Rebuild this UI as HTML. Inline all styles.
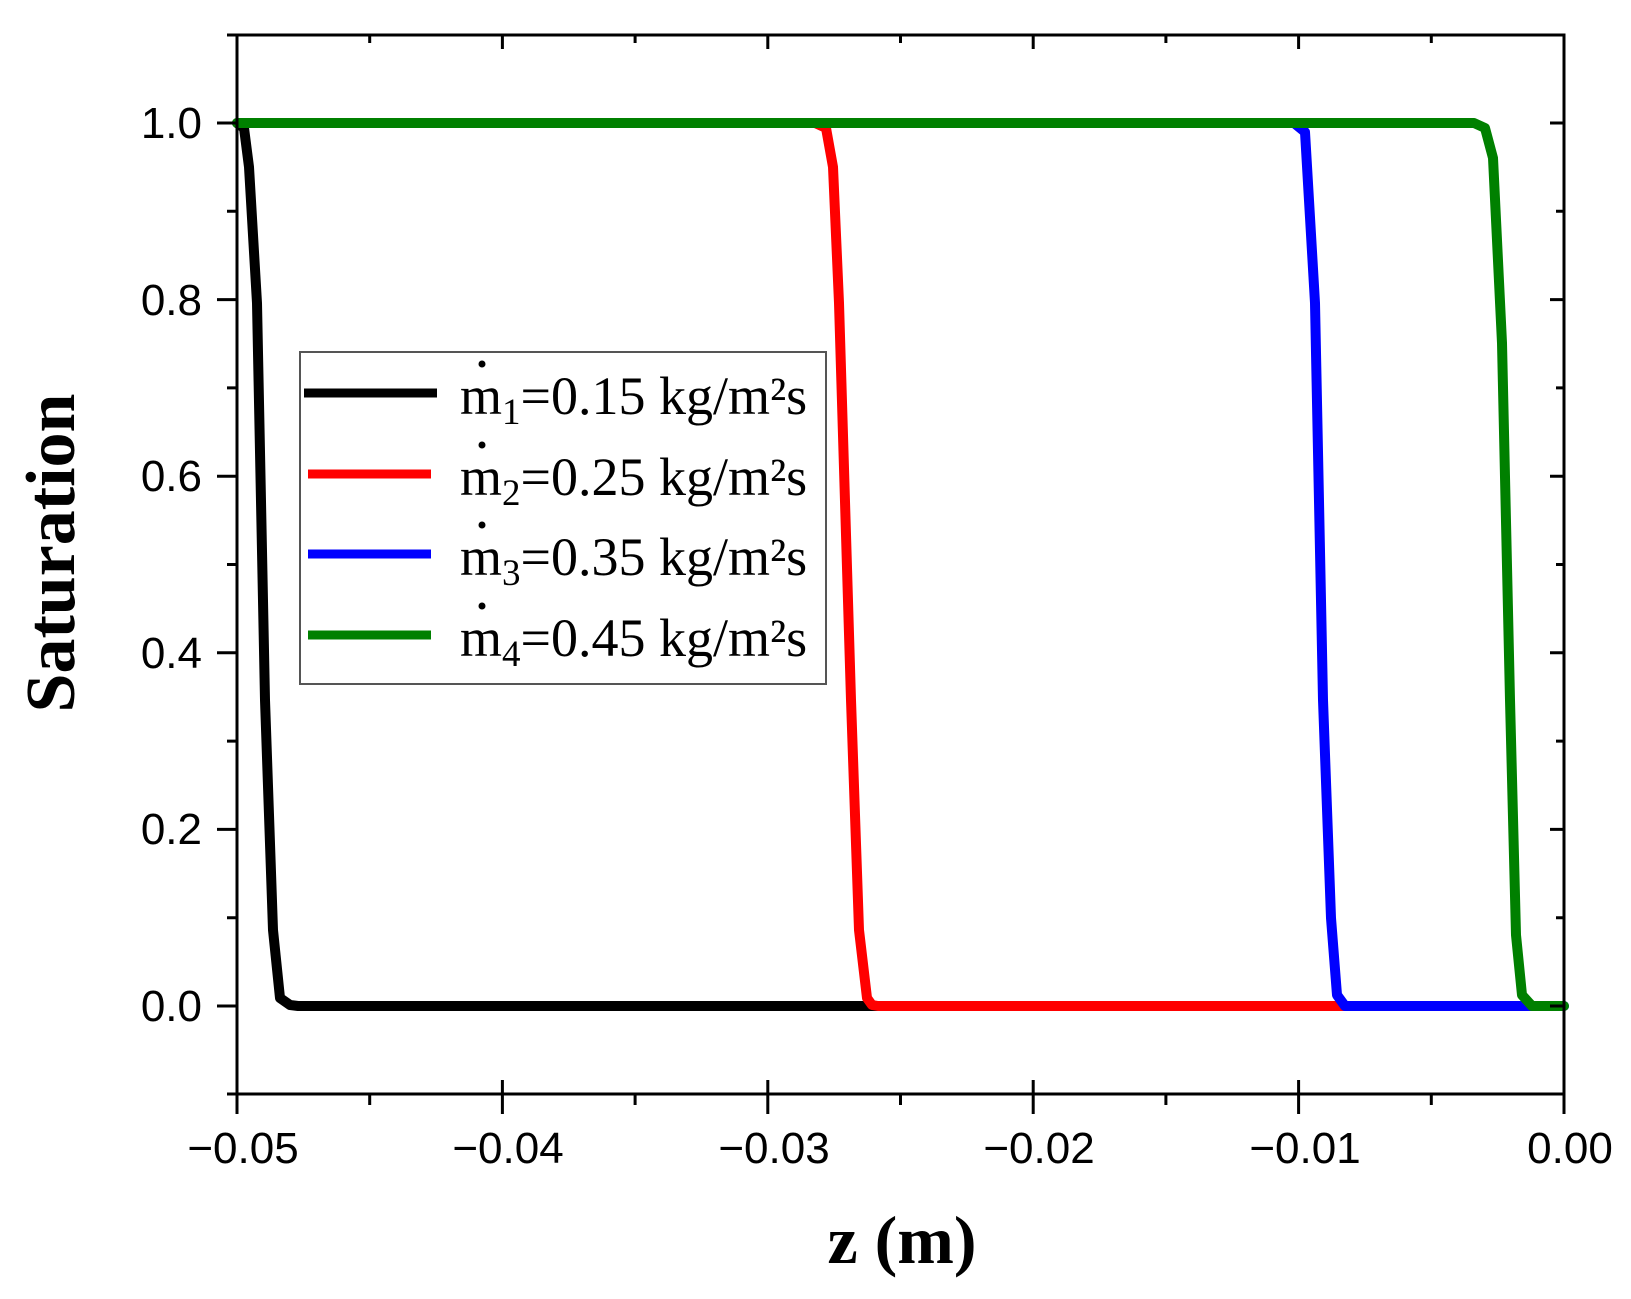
<!DOCTYPE html>
<html><head><meta charset="utf-8"><style>body{margin:0;background:#fff}svg{display:block}</style></head>
<body>
<svg width="1631" height="1299" viewBox="0 0 1631 1299" xmlns="http://www.w3.org/2000/svg">
<rect width="1631" height="1299" fill="#fff"/>
<g fill="none" stroke-linejoin="round" stroke-linecap="round" stroke-width="10">
<polyline stroke="#000" points="237,123 244,128 249,167 257,303 265,700 273,930 280,998 290,1005 298,1006 880,1006"/>
<polyline stroke="#ff0000" points="815,123 826,128 833,167 839,303 851,700 859,930 867,998 872,1005 878,1006 1345,1006"/>
<polyline stroke="#0000ff" points="1294,123 1305,132 1315,303 1323,700 1331,918 1337,995 1345,1006 1564,1006"/>
<polyline stroke="#008000" points="237,123 1474,123 1485,128 1493,158 1502,343 1510,700 1516,935 1522,995 1532,1006 1564,1006"/>
</g>
<g stroke="#000" stroke-width="3" fill="none">
<rect x="237" y="35" width="1327" height="1059"/>
<path d="M217,123H237M217,299.6H237M217,476.2H237M217,652.8H237M217,829.4H237M217,1006H237
M227,35H237M227,211.3H237M227,387.9H237M227,564.5H237M227,741.1H237M227,917.7H237M227,1094H237
M1550,123H1564M1550,299.6H1564M1550,476.2H1564M1550,652.8H1564M1550,829.4H1564M1550,1006H1564
M1556,211.3H1564M1556,387.9H1564M1556,564.5H1564M1556,741.1H1564M1556,917.7H1564"/>
<path d="M237,1080V1114M502.4,1080V1114M767.8,1080V1114M1033.2,1080V1114M1298.6,1080V1114M1564,1080V1114
M369.7,1094V1105M635.1,1094V1105M900.5,1094V1105M1165.9,1094V1105M1431.3,1094V1105
M237,35V49M502.4,35V49M767.8,35V49M1033.2,35V49M1298.6,35V49
M369.7,35V43M635.1,35V43M900.5,35V43M1165.9,35V43M1431.3,35V43"/>
</g>
<g font-family="'Liberation Sans', sans-serif" font-size="44" fill="#000">
<g text-anchor="end">
<text x="202" y="138">1.0</text><text x="202" y="315">0.8</text><text x="202" y="491">0.6</text>
<text x="202" y="668">0.4</text><text x="202" y="844">0.2</text><text x="202" y="1021">0.0</text>
</g>
<g text-anchor="middle">
<text x="243" y="1163">−0.05</text><text x="508" y="1163">−0.04</text><text x="774" y="1163">−0.03</text>
<text x="1039" y="1163">−0.02</text><text x="1305" y="1163">−0.01</text><text x="1570" y="1163">0.00</text>
</g>
</g>
<text x="902" y="1263" text-anchor="middle" style="font-family:'Liberation Serif',serif;font-weight:bold;font-size:68px">z (m)</text>
<text transform="translate(74,553) rotate(-90)" text-anchor="middle" style="font-family:'Liberation Serif',serif;font-weight:bold;font-size:70px">Saturation</text>
<rect x="300" y="352" width="526" height="332" fill="#fff" stroke="#555" stroke-width="2"/>
<g stroke-width="9">
<line x1="304" y1="393" x2="437" y2="393" stroke="#000"/>
<line x1="308" y1="474" x2="431" y2="474" stroke="#ff0000"/>
<line x1="308" y1="554" x2="431" y2="554" stroke="#0000ff"/>
<line x1="308" y1="635" x2="431" y2="635" stroke="#008000"/>
</g>
<g style="font-family:'Liberation Serif',serif;font-size:54px" fill="#000">
<text x="460" y="414">m<tspan font-size="37" dy="10">1</tspan><tspan dy="-10">=0.15 kg/m²s</tspan></text>
<text x="460" y="495">m<tspan font-size="37" dy="10">2</tspan><tspan dy="-10">=0.25 kg/m²s</tspan></text>
<text x="460" y="575">m<tspan font-size="37" dy="10">3</tspan><tspan dy="-10">=0.35 kg/m²s</tspan></text>
<text x="460" y="656">m<tspan font-size="37" dy="10">4</tspan><tspan dy="-10">=0.45 kg/m²s</tspan></text>
</g>
<g fill="#000">
<circle cx="482" cy="364" r="3.5"/><circle cx="482" cy="445" r="3.5"/><circle cx="482" cy="525" r="3.5"/><circle cx="482" cy="606" r="3.5"/>
</g>
</svg>
</body></html>
